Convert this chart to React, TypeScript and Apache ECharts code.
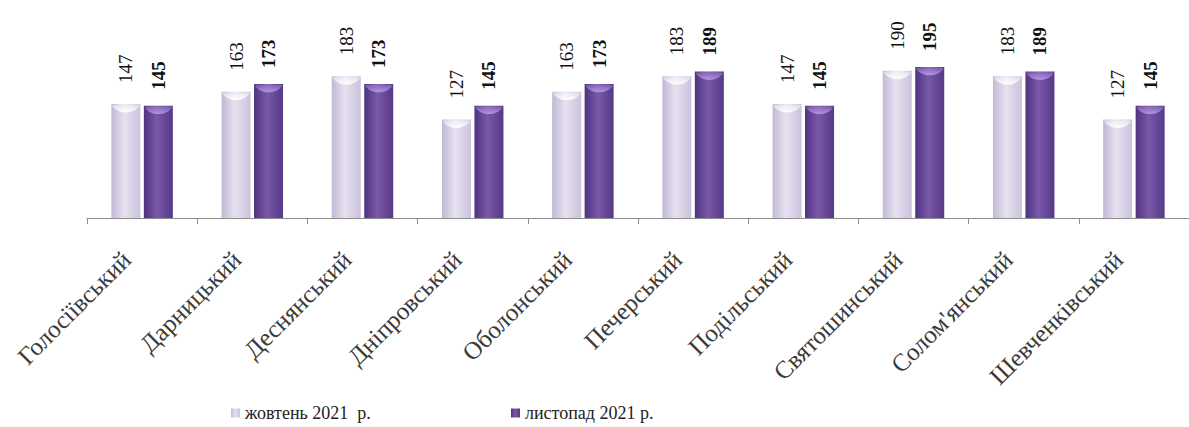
import React, { useEffect, useRef } from "react";
import * as echarts from "echarts";

const categories = [
  "Голосіївський",
  "Дарницький",
  "Деснянський",
  "Дніпровський",
  "Оболонський",
  "Печерський",
  "Подільський",
  "Святошинський",
  "Солом'янський",
  "Шевченківський",
];
const octoberValues = [147, 163, 183, 127, 163, 183, 147, 190, 183, 127];
const novemberValues = [145, 173, 173, 145, 173, 189, 145, 195, 189, 145];
const seriesNames = ["жовтень 2021  р.", "листопад 2021 р."];

const FONT = "'Liberation Serif', 'Times New Roman', serif";
const BAR_W = 29;
const BAR_GAP = 3.5;

export default function App() {
  const ref = useRef<HTMLDivElement>(null);
  useEffect(() => {
    if (!ref.current) return;
    const chart = echarts.init(ref.current, null, { renderer: "svg" });
    const lightGrad = new echarts.graphic.LinearGradient(0, 0, 1, 0, [
      { offset: 0, color: "#c2b8d6" },
      { offset: 0.45, color: "#e6e1ef" },
      { offset: 1, color: "#cbc2dd" },
    ]);
    const darkGrad = new echarts.graphic.LinearGradient(0, 0, 1, 0, [
      { offset: 0, color: "#4e3380" },
      { offset: 0.45, color: "#7a58aa" },
      { offset: 1, color: "#553987" },
    ]);
    const capData: number[][] = [];
    octoberValues.forEach((v, i) => capData.push([i, v, 0]));
    novemberValues.forEach((v, i) => capData.push([i, v, 1]));

    chart.setOption({
      animation: false,
      backgroundColor: "#ffffff",
      grid: { left: 87, top: 63, width: 1112, height: 155 },
      legend: [
        {
          data: [seriesNames[0]],
          left: 226,
          top: 399,
          icon: "rect",
          itemWidth: 9,
          itemHeight: 9,
          itemGap: 4,
          textStyle: { fontFamily: FONT, fontSize: 18, color: "#222" },
        },
        {
          data: [seriesNames[1]],
          left: 506,
          top: 399,
          icon: "rect",
          itemWidth: 9,
          itemHeight: 9,
          itemGap: 4,
          textStyle: { fontFamily: FONT, fontSize: 18, color: "#222" },
        },
      ],
      xAxis: {
        type: "category",
        data: categories,
        axisLine: { lineStyle: { color: "#8c8c8c", width: 1 } },
        axisTick: { show: true, length: 6, lineStyle: { color: "#8c8c8c" } },
        axisLabel: {
          interval: 0,
          rotate: 45,
          margin: 22,
          padding: [0, 22, 0, 0],
          fontFamily: FONT,
          fontSize: 25,
          color: "#3a3a3a",
        },
      },
      yAxis: {
        type: "value",
        min: 0,
        max: 200,
        show: false,
        splitLine: { show: false },
      },
      series: [
        {
          name: seriesNames[0],
          type: "bar",
          data: octoberValues,
          barWidth: BAR_W,
          barGap: "12%",
          itemStyle: { color: lightGrad },
          label: {
            show: true,
            position: "top",
            rotate: 90,
            align: "left",
            verticalAlign: "middle",
            distance: 21,
            fontFamily: FONT,
            fontSize: 19,
            color: "#111",
          },
        },
        {
          name: seriesNames[1],
          type: "bar",
          data: novemberValues,
          barWidth: BAR_W,
          itemStyle: { color: darkGrad },
          label: {
            show: true,
            position: "top",
            rotate: 90,
            align: "left",
            verticalAlign: "middle",
            distance: 16,
            fontFamily: FONT,
            fontSize: 19,
            fontWeight: "bold",
            color: "#111",
          },
        },
        {
          type: "custom",
          silent: true,
          clip: false,
          z: 5,
          data: capData,
          encode: { x: 0, y: 1 },
          renderItem: (params: any, api: any) => {
            const idx = api.value(0);
            const val = api.value(1);
            const s = api.value(2);
            const pt = api.coord([idx, val]);
            const off = (BAR_W + BAR_GAP) / 2;
            const cx = pt[0] + (s === 0 ? -off : off);
            const top = pt[1];
            const fill =
              s === 0
                ? new echarts.graphic.LinearGradient(0, 0, 0, 1, [
                    { offset: 0, color: "rgba(255,255,255,0.3)" },
                    { offset: 1, color: "rgba(255,255,255,0.95)" },
                  ])
                : new echarts.graphic.LinearGradient(0, 0, 0, 1, [
                    { offset: 0, color: "rgba(190,160,235,0.2)" },
                    { offset: 1, color: "rgba(185,150,235,0.9)" },
                  ]);
            return {
              type: "polygon",
              shape: {
                points: [
                  [cx - BAR_W / 2 + 1, top + 1],
                  [cx + BAR_W / 2 - 1, top + 1],
                  [cx + BAR_W / 2 - 4, top + 5],
                  [cx + 4, top + 8],
                  [cx - 4, top + 8],
                  [cx - BAR_W / 2 + 4, top + 5],
                ],
                smooth: 0.3,
              },
              style: { fill },
            };
          },
        },
      ],
    });
    return () => chart.dispose();
  }, []);
  return (
    <div
      ref={ref}
      style={{ position: "absolute", left: 0, top: 0, width: 1189, height: 427 }}
    />
  );
}
